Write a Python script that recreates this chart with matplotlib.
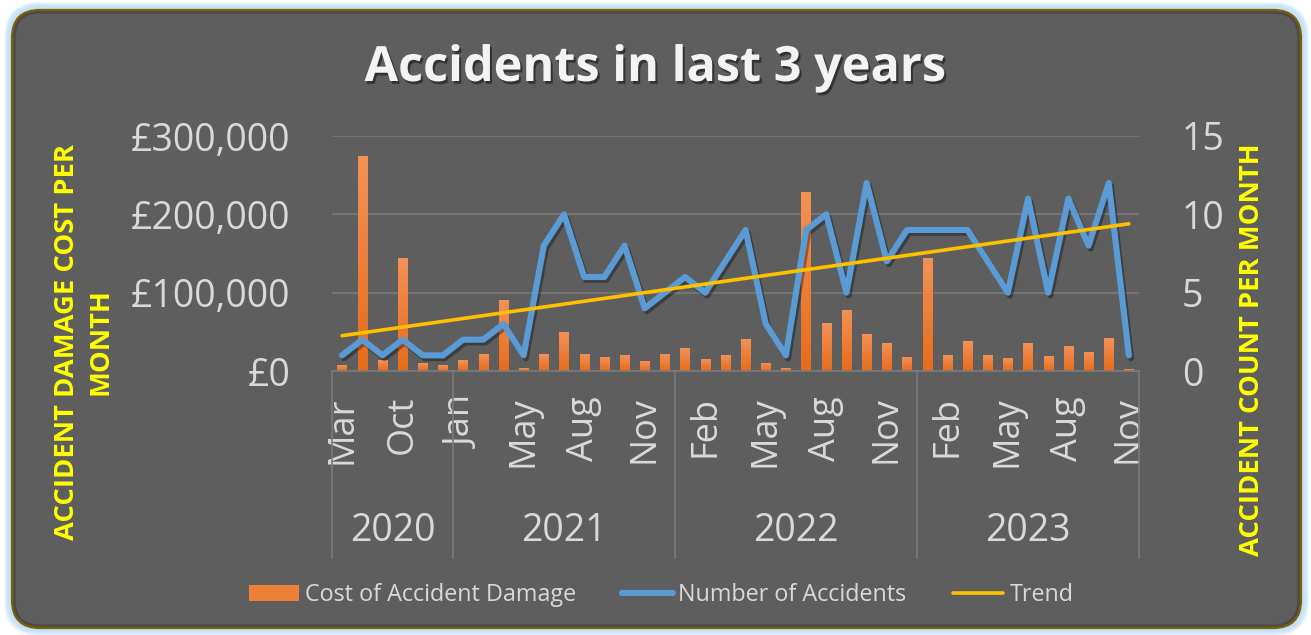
import numpy as np
import matplotlib
matplotlib.use("Agg")
import matplotlib.pyplot as plt
from matplotlib.patches import FancyBboxPatch, Patch
from matplotlib.lines import Line2D
from matplotlib.ticker import FuncFormatter
import matplotlib.patheffects as pe
import matplotlib.transforms as mtrans

plt.rcParams['font.family'] = ['Open Sans', 'DejaVu Sans']

# ---------------- data ----------------
years = ["2020", "2021", "2022", "2023"]
months_2020 = ["Mar", "Jun", "Aug", "Oct", "Nov", "Dec"]
months_2021 = ["Jan", "Mar", "Apr", "May", "Jun", "Jul", "Aug", "Sep", "Oct", "Nov", "Dec"]
months_2022 = ["Jan", "Feb", "Mar", "Apr", "May", "Jun", "Jul", "Aug", "Sep", "Oct", "Nov", "Dec"]
months_2023 = ["Jan", "Feb", "Mar", "Apr", "May", "Jun", "Jul", "Aug", "Sep", "Oct", "Nov"]

cost = [7000, 274000, 14000, 143000, 10000, 7300,
        14000, 21000, 90500, 3400, 21000, 49600, 21000, 17500, 20000, 12400, 21000,
        29000, 15000, 20000, 40600, 10000, 3400, 227800, 61000, 77800, 47000, 35500, 17500,
        143000, 20000, 38000, 20000, 16300, 35500, 18800, 31700, 24000, 42000, 2200]
accidents = [1, 2, 1, 2, 1, 1,
             2, 2, 3, 1, 8, 10, 6, 6, 8, 4, 5,
             6, 5, 7, 9, 3, 1, 9, 10, 5, 12, 7, 9, 9,
             9, 9, 7, 5, 11, 5, 11, 8, 12, 1]

month_groups = [months_2020, months_2021, months_2022, months_2023]
months = [m for g in month_groups for m in g]
n = len(months)
x = np.arange(n)

# linear trend (least squares) of accidents
coef = np.polyfit(x, accidents, 1)
trend = np.polyval(coef, x)

W, H = 1311, 635
fig = plt.figure(figsize=(W / 100, H / 100), dpi=100)
fig.patch.set_facecolor('white')

# ---------------- background panel ----------------
bg = fig.add_axes([0, 0, 1, 1], zorder=-10)
bg.set_xlim(0, W)
bg.set_ylim(H, 0)
bg.axis('off')

bx, by, bw, bh, r = 12, 10, 1289, 618, 28
for k in range(8, 0, -1):
    glow = FancyBboxPatch((bx - k, by - k), bw + 2 * k, bh + 2 * k,
                          boxstyle=f"round,pad=0,rounding_size={r + k}",
                          facecolor='#b9dcf9', edgecolor='none', alpha=0.25)
    bg.add_patch(glow)

panel = FancyBboxPatch((bx, by), bw, bh, boxstyle=f"round,pad=0,rounding_size={r}",
                       facecolor='#5e5e5e', edgecolor='none')
bg.add_patch(panel)

prof = np.full(H, 0x5e / 255.0)
yy = np.arange(H)
top = (yy >= 10) & (yy < 30)
prof[top] = (0x66 - (yy[top] - 10) * 0.4) / 255.0
bot = yy >= 598
prof[bot] = (0x60 + (yy[bot] - 598) / 30.0 * 0x38) / 255.0
img = np.repeat(np.clip(prof, 0, 1)[:, None], W, axis=1)
img = np.dstack([img, img, img])
im = bg.imshow(img, extent=[0, W, H, 0], aspect='auto', interpolation='bilinear')
im.set_clip_path(panel)

inner = FancyBboxPatch((bx + 2, by + 2), bw - 4, bh - 4, boxstyle=f"round,pad=0,rounding_size={r - 2}",
                       facecolor='none', edgecolor='#3c3c3c', lw=2.5, alpha=0.55)
bg.add_patch(inner)
border = FancyBboxPatch((bx, by), bw, bh, boxstyle=f"round,pad=0,rounding_size={r}",
                        facecolor='none', edgecolor='#7f6000', lw=1.6)
bg.add_patch(border)

# ---------------- main axes ----------------
ax_l, ax_r, ax_t, ax_b = 332, 1139, 136, 371
ax = fig.add_axes([ax_l / W, 1 - ax_b / H, (ax_r - ax_l) / W, (ax_b - ax_t) / H])
ax.set_facecolor('none')

text_col = '#d9d9d9'
bars = ax.bar(x, cost, width=0.46, color='#ED7D31', zorder=2)
grad = np.linspace(0, 1, 64)[:, None]
c_top = np.array([0xf3, 0x91, 0x56]) / 255.0
c_bot = np.array([0xe6, 0x6c, 0x1c]) / 255.0
gimg = c_top[None, None, :] * (1 - grad[:, :, None]) + c_bot[None, None, :] * grad[:, :, None]
for b in bars:
    x0, w0, h0 = b.get_x(), b.get_width(), b.get_height()
    ax.imshow(gimg, extent=[x0, x0 + w0, 0, h0], aspect='auto', zorder=2.1,
              interpolation='bilinear', origin='upper')

ax.set_xlim(-0.5, n - 0.5)
ax.set_ylim(0, 300000)
ax.set_yticks([0, 100000, 200000, 300000])
ax.yaxis.set_major_formatter(FuncFormatter(lambda v, p: f"£{v:,.0f}"))
ax.grid(axis='y', color='#767676', lw=1.4, zorder=0)
ax.set_axisbelow(True)
for s in ['left', 'right', 'top']:
    ax.spines[s].set_visible(False)
ax.spines['bottom'].set_color('#7a7a7a')
ax.spines['bottom'].set_linewidth(1.2)
ax.tick_params(axis='y', length=0, pad=30, labelsize=27, labelcolor=text_col)

tick_idx = list(range(0, n, 3))
ax.set_xticks(tick_idx)
ax.set_xticklabels([months[i] for i in tick_idx], rotation=90, va='top', ha='center')
ax.tick_params(axis='x', length=0, pad=18, labelsize=26, labelcolor=text_col)

# group dividers and year labels
trans = mtrans.blended_transform_factory(ax.transData, ax.transAxes)
bounds = np.cumsum([0] + [len(g) for g in month_groups]) - 0.5
y_div = -(558 - ax_b) / (ax_b - ax_t)
for bpos in bounds:
    ax.plot([bpos, bpos], [0, y_div], transform=trans, color='#7a7a7a', lw=1.2, clip_on=False)
y_year = -(531 - ax_b) / (ax_b - ax_t)
for i, yr in enumerate(years):
    cx = (bounds[i] + bounds[i + 1]) / 2
    ax.text(cx, y_year, yr, transform=trans, ha='center', va='center', fontsize=27, color=text_col)

# ---------------- secondary axis ----------------
ax2 = ax.twinx()
ax2.set_ylim(0, 15)
ax2.set_yticks([0, 5, 10, 15])
for s in ax2.spines.values():
    s.set_visible(False)
ax2.tick_params(axis='y', length=0, pad=31, labelsize=27, labelcolor=text_col)

ax2.plot(x, accidents, color='#5B9BD5', lw=4.4, solid_joinstyle='round', solid_capstyle='round', zorder=3,
         path_effects=[pe.SimpleLineShadow(offset=(1.5, -2), shadow_color='black', alpha=0.35), pe.Normal()])
ax2.plot(x, trend, color='#FFC000', lw=2.6, solid_capstyle='round', zorder=4)

# ---------------- texts ----------------
fig.text(655 / W, 1 - 81 / H, "Accidents in last 3 years", ha='center', va='baseline', fontsize=35,
         fontweight='bold', color='#f4f4f4',
         path_effects=[pe.withSimplePatchShadow(offset=(1.5, -2), shadow_rgbFace='black', alpha=0.45)])

fig.text(84 / W, 1 - 342 / H, "ACCIDENT DAMAGE COST PER\nMONTH", rotation=90, ha='center', va='center',
         multialignment='center', fontsize=19.7, fontweight='bold', color='#ffff00', linespacing=1.35)
fig.text(1252 / W, 1 - 350 / H, "ACCIDENT COUNT PER MONTH", rotation=90, ha='center', va='center',
         fontsize=19.7, fontweight='bold', color='#ffff00')

handles = [Patch(facecolor='#EF8038', edgecolor='none'),
           Line2D([], [], color='#5B9BD5', lw=4.4, solid_capstyle='round'),
           Line2D([], [], color='#FFC000', lw=2.6, solid_capstyle='round')]
labels = ["Cost of Accident Damage", "Number of Accidents", "Trend"]
fig.legend(handles, labels, loc='center', bbox_to_anchor=(661 / W, 1 - 595 / H), ncol=3, frameon=False,
           fontsize=16.8, handlelength=2.15, handletextpad=0.25, columnspacing=2.0, labelcolor=text_col)

fig.savefig("out.png", dpi=100, facecolor=fig.get_facecolor())
